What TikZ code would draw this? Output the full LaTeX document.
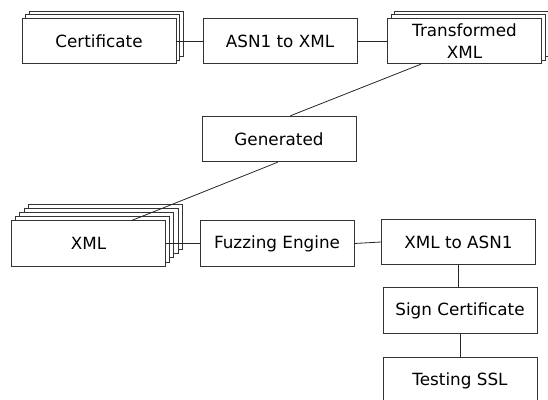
\documentclass[tikz,border=0pt]{standalone}
\usepackage{fontspec}
\newfontfamily\dejavu{DejaVu Sans}
\usetikzlibrary{positioning,shadows}

\tikzset{
  box/.style={draw=black!80, fill=white, line width=0.9pt, minimum width=154pt,
    minimum height=45.5pt, inner sep=0pt, align=center,
    font=\dejavu\fontsize{16.8}{22}\selectfont},
  layer/.style={general shadow={fill=white, draw=black!80, line width=0.9pt,
    shadow xshift=#1, shadow yshift=#1}},
  link/.style={draw=black!85, line width=0.8pt},
}

\begin{document}
\begin{tikzpicture}[x=1pt,y=-1pt,on grid,node distance=181pt]
  \useasboundingbox (0,0) rectangle (548,399);

  % top row
  \node[box, layer=7pt, layer=3.5pt] (cert) at (99,41) {Certificate};
  \node[box] (asn) [right=of cert] {ASN1 to XML};
  \node[box, layer=7pt, layer=3.5pt] (trans) [right=of asn, xshift=3.5pt] {Transformed\\XML};

  \node[box] (gen) at (279,139) {Generated};

  % bottom part
  \node[box, layer=16.8pt, layer=12.6pt, layer=8.4pt, layer=4.2pt] (xml) at (88.5,243.5) {XML};
  \node[box] (fuzz) [right=188.5pt of xml] {Fuzzing Engine};
  \node[box] (x2a) [right=181.5pt of fuzz, yshift=1.5pt] {XML to ASN1};
  \node[box] (sign) [below=68.5pt of x2a, xshift=1.5pt] {Sign Certificate};
  \node[box] (test) [below=70pt of sign] {Testing SSL};

  \path[link]
    (cert.east) edge (asn.west)
    (asn.east) edge (trans.west)
    (trans.208) edge (gen.64)
    (gen.267) edge (xml.28)
    (xml.east) edge (fuzz.west)
    (fuzz.east) edge (x2a.west)
    (x2a.south) edge (x2a.south |- sign.north)
    (sign.south) edge (test.north);
\end{tikzpicture}
\end{document}
